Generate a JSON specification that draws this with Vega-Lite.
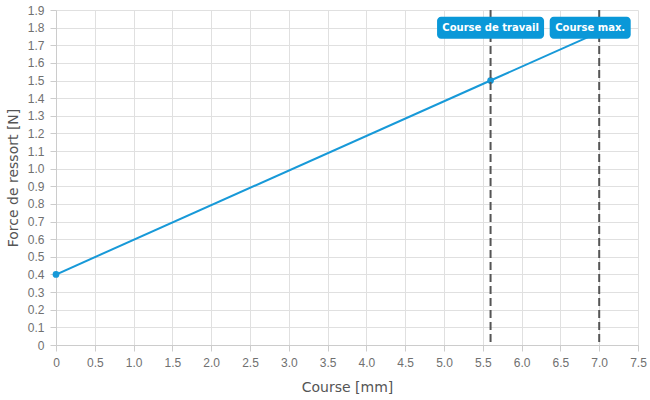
{
  "$schema": "https://vega.github.io/schema/vega-lite/v6.json",
  "width": 582,
  "height": 335,
  "autosize": "none",
  "padding": {"left": 56, "top": 10, "right": 12, "bottom": 55},
  "config": {
    "view": {"stroke": null},
    "axis": {
      "gridColor": "#e0e0e0",
      "gridWidth": 1,
      "domainColor": "#cccccc",
      "tickColor": "#cccccc",
      "tickSize": 6,
      "labelFont": "Liberation Sans",
      "labelFontSize": 12,
      "labelColor": "#707070",
      "labelFlush": false,
      "titleFont": "DejaVu Sans",
      "titleFontSize": 14,
      "titleFontWeight": "normal",
      "titleColor": "#555555"
    }
  },
  "datasets": {
    "curve": [
      {"course": 0, "force": 0.4},
      {"course": 5.6, "force": 1.5},
      {"course": 7.0, "force": 1.775}
    ],
    "points": [
      {"course": 0, "force": 0.4},
      {"course": 5.6, "force": 1.5}
    ],
    "markers": [
      {"label": "Course de travail", "course": 5.6, "top": 1.8},
      {"label": "Course max.", "course": 7.0, "top": 1.8}
    ]
  },
  "encoding": {
    "x": {
      "field": "course",
      "type": "quantitative",
      "scale": {"domain": [0, 7.5], "nice": false},
      "axis": {
        "title": "Course [mm]",
        "values": [0, 0.5, 1, 1.5, 2, 2.5, 3, 3.5, 4, 4.5, 5, 5.5, 6, 6.5, 7, 7.5],
        "labelExpr": "datum.value == 0 ? '0' : format(datum.value, '.1f')",
        "labelPadding": 6,
        "titlePadding": 12
      }
    },
    "y": {
      "field": "force",
      "type": "quantitative",
      "scale": {"domain": [0, 1.9], "nice": false},
      "axis": {
        "title": "Force de ressort [N]",
        "values": [0, 0.1, 0.2, 0.3, 0.4, 0.5, 0.6, 0.7, 0.8, 0.9, 1, 1.1, 1.2, 1.3, 1.4, 1.5, 1.6, 1.7, 1.8, 1.9],
        "labelExpr": "datum.value == 0 ? '0' : format(datum.value, '.1f')",
        "labelPadding": 6,
        "titlePadding": 7
      }
    }
  },
  "layer": [
    {
      "data": {"name": "curve"},
      "mark": {"type": "line", "color": "#1799d8", "strokeWidth": 2, "clip": true}
    },
    {
      "data": {"name": "points"},
      "mark": {"type": "point", "filled": true, "color": "#1799d8", "size": 45, "opacity": 1}
    },
    {
      "data": {"name": "markers"},
      "mark": {"type": "rule", "color": "#555555", "strokeWidth": 2, "strokeDash": [8, 4]},
      "encoding": {"y": null}
    },
    {
      "data": {"name": "markers"},
      "transform": [{"filter": "datum.label == 'Course de travail'"}],
      "mark": {"type": "rect", "color": "#0a98d8", "width": 107, "height": 22, "cornerRadius": 4},
      "encoding": {"y": {"field": "top", "type": "quantitative"}}
    },
    {
      "data": {"name": "markers"},
      "transform": [{"filter": "datum.label == 'Course max.'"}],
      "mark": {"type": "rect", "color": "#0a98d8", "width": 81, "height": 22, "cornerRadius": 4, "xOffset": -9},
      "encoding": {"y": {"field": "top", "type": "quantitative"}}
    },
    {
      "data": {"name": "markers"},
      "transform": [{"filter": "datum.label == 'Course de travail'"}],
      "mark": {"type": "text", "color": "white", "font": "DejaVu Sans", "fontWeight": "bold", "fontSize": 10, "baseline": "middle", "align": "center"},
      "encoding": {"y": {"field": "top", "type": "quantitative"}, "text": {"field": "label"}}
    },
    {
      "data": {"name": "markers"},
      "transform": [{"filter": "datum.label == 'Course max.'"}],
      "mark": {"type": "text", "color": "white", "font": "DejaVu Sans", "fontWeight": "bold", "fontSize": 10, "baseline": "middle", "align": "center", "dx": -9},
      "encoding": {"y": {"field": "top", "type": "quantitative"}, "text": {"field": "label"}}
    }
  ]
}
